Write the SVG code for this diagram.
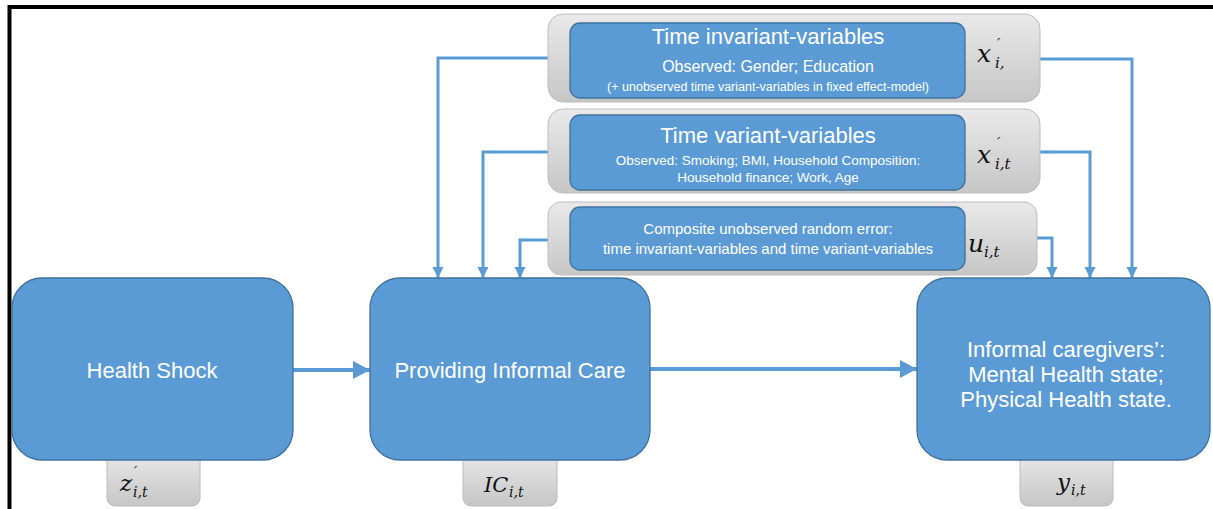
<svg xmlns="http://www.w3.org/2000/svg" width="1213" height="509" viewBox="0 0 1213 509">
<defs>
<linearGradient id="gray" x1="0" y1="0" x2="0" y2="1">
<stop offset="0" stop-color="#e9e9e9"/>
<stop offset="1" stop-color="#c6c6c6"/>
</linearGradient>
<marker id="ah" markerUnits="userSpaceOnUse" markerWidth="12" markerHeight="12" viewBox="0 0 12 12" refX="11" refY="6" orient="auto">
<path d="M0,0.5 L11,6 L0,11.5 Z" fill="#5b9bd5"/>
</marker>
<marker id="ahb" markerUnits="userSpaceOnUse" markerWidth="18" markerHeight="20" viewBox="0 0 18 20" refX="17" refY="10" orient="auto">
<path d="M0,1 L17,10 L0,19 Z" fill="#5b9bd5"/>
</marker>
</defs>
<style>
.panel{fill:url(#gray);stroke:#bdbdbd;stroke-width:1}
.blue{fill:#5b9bd5;stroke:#41719c;stroke-width:1.3}
.conn{fill:none;stroke:#5b9bd5;stroke-width:3;marker-end:url(#ah)}
.main{fill:none;stroke:#5b9bd5;stroke-width:4;marker-end:url(#ahb)}
.t{font-family:"Liberation Sans",Arial,sans-serif;fill:#fff;text-anchor:middle}
.m{font-family:"DejaVu Serif","Liberation Serif",serif;font-style:italic;fill:#111}
</style>
<rect width="1213" height="509" fill="#fff"/>
<path d="M9.5,509 V7 H1213" fill="none" stroke="#000" stroke-width="4"/>

<g id="connectors">
<path class="conn" d="M548,58 H438 V278"/>
<path class="conn" d="M548,152 H483 V278"/>
<path class="conn" d="M548,240 H520 V278"/>
<path class="conn" d="M1040,59 H1132 V278"/>
<path class="conn" d="M1040,152 H1090 V278"/>
<path class="conn" d="M1037,238 H1052 V278"/>
<path class="main" d="M293,370 H370"/>
<path class="main" d="M650,369 H917"/>
</g>

<g id="time-invariant">
<rect class="panel" x="548" y="14" width="492" height="88" rx="15"/>
<rect class="blue" x="570" y="23" width="395" height="75" rx="10"/>
<text class="t" x="768" y="44" font-size="22">Time invariant-variables</text>
<text class="t" x="768" y="72" font-size="16">Observed: Gender; Education</text>
<text class="t" x="768" y="91" font-size="12.5">(+ unobserved time variant-variables in fixed effect-model)</text>
<text class="m" x="977" y="62" font-size="25">x</text>
<text class="m" x="997" y="49" font-size="15">′</text>
<text class="m" x="995" y="68" font-size="15">i,</text>
</g>

<g id="time-variant">
<rect class="panel" x="548" y="109" width="492" height="84" rx="15"/>
<rect class="blue" x="570" y="115" width="395" height="75" rx="10"/>
<text class="t" x="768" y="143" font-size="22">Time variant-variables</text>
<text class="t" x="768" y="165" font-size="13.5">Observed: Smoking; BMI, Household Composition:</text>
<text class="t" x="768" y="182" font-size="13.5">Household finance; Work, Age</text>
<text class="m" x="977" y="163" font-size="25">x</text>
<text class="m" x="997" y="148" font-size="15">′</text>
<text class="m" x="995" y="169" font-size="15">i,t</text>
</g>

<g id="random-error">
<rect class="panel" x="548" y="202" width="489" height="73" rx="13"/>
<rect class="blue" x="570" y="207" width="395" height="63" rx="10"/>
<text class="t" x="768" y="234" font-size="15">Composite unobserved random error:</text>
<text class="t" x="768" y="254" font-size="15">time invariant-variables and time variant-variables</text>
<text class="m" x="968" y="252" font-size="25">u</text>
<text class="m" x="984" y="257" font-size="15">i,t</text>
</g>

<g id="health-shock">
<rect class="panel" x="107" y="452" width="93" height="54" rx="8"/>
<rect class="blue" x="12" y="278" width="281" height="182" rx="30"/>
<text class="t" x="152" y="378" font-size="22">Health Shock</text>
<text class="m" x="120" y="491" font-size="23">z</text>
<text class="m" x="134" y="477" font-size="14">′</text>
<text class="m" x="133" y="497" font-size="14">i,t</text>
</g>

<g id="informal-care">
<rect class="panel" x="463" y="452" width="94" height="54" rx="8"/>
<rect class="blue" x="370" y="278" width="280" height="182" rx="30"/>
<text class="t" x="510" y="378" font-size="22">Providing Informal Care</text>
<text class="m" x="484" y="492" font-size="21">IC</text>
<text class="m" x="509" y="497" font-size="14">i,t</text>
</g>

<g id="health-state">
<rect class="panel" x="1020" y="452" width="93" height="54" rx="8"/>
<rect class="blue" x="917" y="278" width="293" height="182" rx="30"/>
<text class="t" x="1066" y="357" font-size="22">Informal caregivers’:</text>
<text class="t" x="1066" y="382" font-size="22">Mental Health state;</text>
<text class="t" x="1066" y="407" font-size="22">Physical Health state.</text>
<text class="m" x="1057" y="490" font-size="23">y</text>
<text class="m" x="1071" y="495" font-size="14">i,t</text>
</g>
</svg>
